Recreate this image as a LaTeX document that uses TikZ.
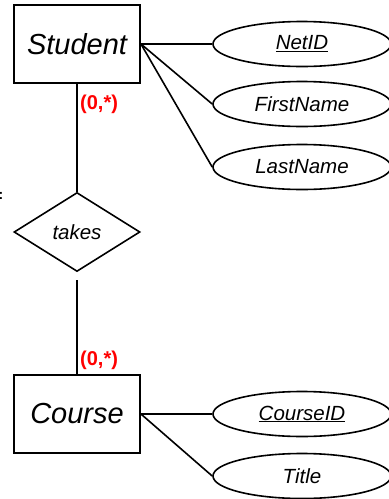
\documentclass[tikz,border=0pt]{standalone}
\usepackage{fontspec}
\setmainfont{Liberation Sans}
\usetikzlibrary{shapes.geometric}
\usetikzlibrary{positioning}
\tikzset{entity/.style = {draw, line width=1.9, minimum width=126, minimum height=78, inner sep=0, font=\itshape\fontsize{29}{29}\selectfont}}
\tikzset{attrib/.style = {draw, ellipse, line width=1.6, minimum width=178, minimum height=45, inner sep=0, font=\itshape\fontsize{20.5}{20.5}\selectfont}}
\tikzset{relship/.style = {draw, diamond, line width=1.6, minimum width=126, minimum height=79, inner sep=0, font=\itshape\fontsize{20.5}{20.5}\selectfont}}
\tikzset{card/.style = {text=red, inner sep=0, anchor=west, font=\bfseries\fontsize{20}{20}\selectfont}}
\tikzset{link/.style = {line width=1.6}}

\begin{document}
\begin{tikzpicture}[x=1pt, y=-1pt]
  \useasboundingbox (0,0) rectangle (389,499);

  \node [entity] (student) at (77,44) {Student};
  \node [entity] (course) at (77,414) {Course};
  \node [relship] (takes) at (77,232) {takes};

  \node [attrib] (netid) at (302,44) {\underline{NetID}};
  \node [attrib] (first) at (302,104) {FirstName};
  \node [attrib] (last) at (302,167) {LastName};
  \node [attrib] (courseid) at (302,414) {\underline{CourseID}};
  \node [attrib] (title) at (302,476) {Title};

  \draw [link] (student.east) -- (netid.west);
  \draw [link] (student.east) -- (first.west);
  \draw [link] (student.east) -- (last.west);
  \draw [link] (course.east) -- (courseid.west);
  \draw [link] (course.east) -- (title.west);

  \draw [link] (student.south) -- (takes.north);
  \draw [link, shorten <=8] (takes.south) -- (course.north);

  \node [card] (cardtop) at (80,104) {(0,*)};
  \node [card] (cardbot) at (80,360) {(0,*)};

  \node [inner sep=0, font=\bfseries\fontsize{14}{14}\selectfont] (colon) at (1,196) {:};
\end{tikzpicture}
\end{document}
